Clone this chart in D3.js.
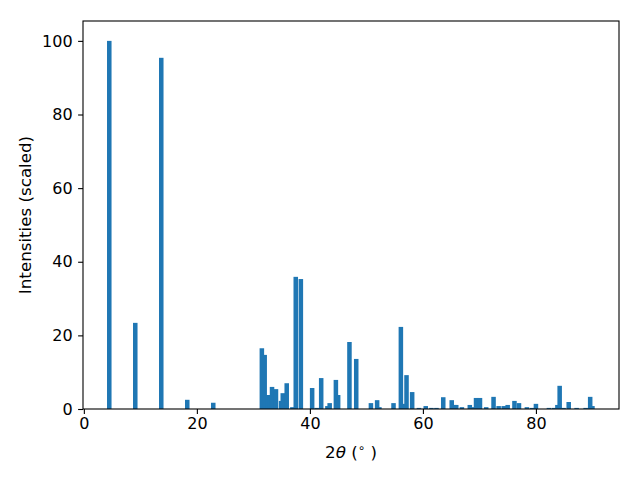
<!DOCTYPE html>
<html>
<head>
<meta charset="utf-8">
<script src="https://cdn.jsdelivr.net/npm/d3@7"></script>
<style>
  html, body { margin: 0; padding: 0; background: #fff; }
  svg { display: block; font-family: "DejaVu Sans", sans-serif; }
</style>
</head>
<body>
<svg id="chart" width="640" height="480"></svg>
<script>
// 2θ positions (degrees) and scaled intensities
const twoTheta = [4.5, 9.1, 13.7, 18.3, 22.9,
  31.5, 32.0, 32.5, 32.9, 33.3, 34.0, 34.9, 35.2, 35.9, 36.9, 37.5, 38.4,
  40.4, 41.2, 42.0, 43.1, 43.5, 44.6, 45.0, 47.0, 48.2, 50.8, 51.9, 52.3,
  54.8, 56.1, 56.5, 57.1, 58.1, 59.3, 60.5, 61.5, 62.4, 63.6, 65.1, 65.6, 65.9,
  66.9, 68.3, 68.7, 69.4, 70.1, 71.2, 72.5, 73.4, 74.3, 75.0, 76.2, 77.0,
  78.4, 79.3, 80.0, 82.3, 83.2, 83.8, 84.2, 84.9, 85.8, 87.2, 88.8, 89.6, 90.0];
const intensity = [100, 23.4, 95.4, 2.5, 1.7,
  16.5, 14.7, 3.8, 3.8, 6.0, 5.4, 2.2, 4.3, 7.0, 0.5, 35.9, 35.3,
  5.7, 0.3, 8.4, 0.8, 1.6, 7.9, 3.8, 18.2, 13.6, 1.6, 2.4, 0.5,
  1.6, 22.3, 1.4, 9.2, 4.6, 0.3, 0.8, 0.3, 0.3, 3.2, 2.4, 1.1, 1.1,
  0.5, 1.1, 0.5, 3.0, 3.0, 0.5, 3.3, 0.8, 0.8, 1.1, 2.2, 1.6,
  0.5, 0.3, 1.4, 0.3, 0.3, 1.1, 6.3, 0.3, 1.9, 0.3, 0.3, 3.3, 0.8];
const xTicks = [0, 20, 40, 60, 80];
const yTicks = [0, 20, 40, 60, 80, 100];
const barWidth = 0.8;
const xDomain = [-0.15, 94.7];
const yDomain = [0, 105.4];

const data = twoTheta.map((t, i) => ({ t, v: intensity[i] }));

const svg = d3.select("#chart");
const m = { left: 83, right: 619, top: 21, bottom: 409 };

const x = d3.scaleLinear().domain(xDomain).range([m.left, m.right]);
const y = d3.scaleLinear().domain(yDomain).range([m.bottom, m.top]);

svg.append("rect").attr("width", 640).attr("height", 480).attr("fill", "#fff");

svg.append("g").selectAll("rect").data(data).join("rect")
  .attr("x", d => x(d.t - barWidth / 2))
  .attr("width", d => x(d.t + barWidth / 2) - x(d.t - barWidth / 2))
  .attr("y", d => y(d.v))
  .attr("height", d => y(0) - y(d.v))
  .attr("fill", "#1f77b4");

const xAxis = svg.append("g").attr("transform", `translate(0,${m.bottom})`)
  .call(d3.axisBottom(x).tickValues(xTicks).tickFormat(d3.format("d"))
    .tickSize(4.9).tickSizeOuter(0).tickPadding(4));
const yAxis = svg.append("g").attr("transform", `translate(${m.left},0)`)
  .call(d3.axisLeft(y).tickValues(yTicks).tickFormat(d3.format("d"))
    .tickSize(4.9).tickSizeOuter(0).tickPadding(5.5));
[xAxis, yAxis].forEach(g => {
  g.select(".domain").remove();
  g.selectAll("line").attr("stroke", "#000").attr("stroke-width", 1.1);
  g.selectAll("text").attr("fill", "#000").style("font-size", "16px")
    .style("font-family", "'DejaVu Sans', sans-serif");
});

svg.append("rect")
  .attr("x", m.left).attr("y", m.top)
  .attr("width", m.right - m.left).attr("height", m.bottom - m.top)
  .attr("fill", "none").attr("stroke", "#000").attr("stroke-width", 1.1);

// x label: 2θ (°)
const xl = svg.append("text")
  .attr("x", (m.left + m.right) / 2).attr("y", 458)
  .attr("text-anchor", "middle").style("font-size", "16.7px").attr("fill", "#000");
xl.append("tspan").text("2");
xl.append("tspan").style("font-style", "italic").text("θ");
xl.append("tspan").text(" (");
xl.append("tspan").attr("dy", -6).style("font-size", "11.7px").text("∘");
xl.append("tspan").attr("dy", 6).text(" )");

// y label
svg.append("text")
  .attr("transform", `translate(31,${(m.top + m.bottom) / 2}) rotate(-90)`)
  .attr("text-anchor", "middle").style("font-size", "16.7px").attr("fill", "#000")
  .text("Intensities (scaled)");
</script>
</body>
</html>
